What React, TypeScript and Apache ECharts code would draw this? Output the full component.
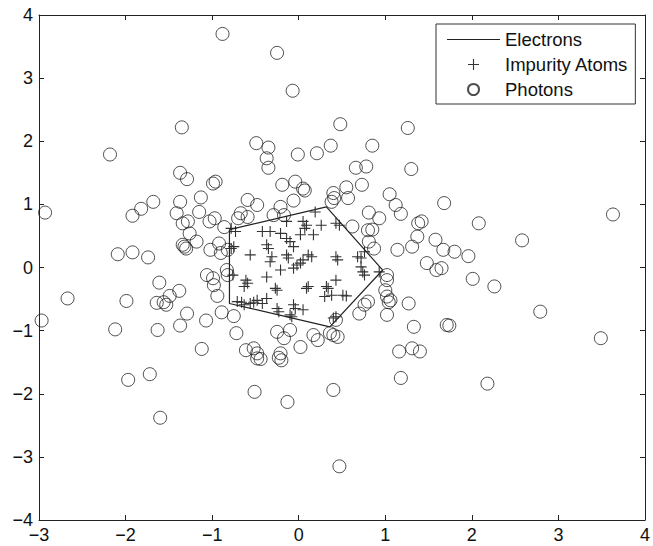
import React, { useEffect, useRef } from "react";
import * as echarts from "echarts";

const xTicks = [-3, -2, -1, 0, 1, 2, 3, 4];
const yTicks = [-4, -3, -2, -1, 0, 1, 2, 3, 4];

const electronX = [-0.8, 0.32, 0.97, 0.36, -0.8, -0.8];
const electronY = [0.6, 0.96, -0.04, -0.94, -0.57, 0.6];

const impurityX = [
  0.19, 0.05, 0.09, 0.07, 0.26, 0.43, 0.47, -0.14, -0.42, -0.33, -0.21, -0.78, -0.73, -0.1, 0.02, 0.17,
  -0.14, -0.37, -0.35, -0.75, -0.78, -0.06, -0.56, -0.31, -0.33, -0.14, -0.12, 0.11, 0.15, 0.05, -0.02,
  -0.06, 0.02, -0.21, 0.43, 0.45, 0.68, 0.72, 0.76, 0.72, 0.74, 0.76, 0.93, -0.76, -0.37, -0.61, -0.59,
  -0.63, -0.27, -0.25, 0.11, 0.09, 0.32, 0.34, 0.43, 0.3, 0.38, 0.51, 0.55, -0.71, -0.63, -0.56, -0.48,
  -0.42, -0.37, -0.66, -0.52, -0.25, -0.23, -0.06, -0.04, 0.05, -0.1, -0.08, 0.43, 0.4,
];
const impurityY = [
  0.88, 0.73, 0.67, 0.62, 0.67, 0.7, 0.67, 0.73, 0.57, 0.57, 0.54, 0.62, 0.57, 0.41, 0.52, 0.52,
  0.46, 0.36, 0.3, 0.33, 0.3, 0.33, 0.2, 0.17, 0.09, 0.2, 0.15, 0.2, 0.17, 0.12, 0.04,
  -0.01, 0.07, -0.04, 0.17, 0.12, 0.17, 0.15, 0.25, 0.01, -0.07, -0.12, -0.07, -0.12, -0.15, -0.2, -0.25,
  -0.3, -0.33, -0.36, -0.3, -0.33, -0.3, -0.33, -0.2, -0.46, -0.44, -0.44, -0.45, -0.54, -0.59, -0.57, -0.52,
  -0.57, -0.49, -0.55, -0.55, -0.65, -0.7, -0.59, -0.65, -0.67, -0.75, -0.78, -0.78, -0.8,
];

const photonX = [
  -0.88, -0.25, -0.07, -1.35, 0.48, 1.26, -2.18, -1.37, -1.29, -0.99, -0.96, -0.49, -0.35, -0.37, -0.35, -0.01,
  0.21, 0.37, 0.85, 0.66, 0.78, 1.3, -0.19, -0.04, 0.05, 0.55, 0.73, -0.59, -0.48, -0.67, -0.7, -0.21,
  -0.29, -0.17, -0.06, 0.07, 0.4, 0.41, 0.38, 0.57, 1.05, 1.12, 1.18, 1.68, 0.81, 0.93, 0.62, 0.8,
  0.85, 0.81, 0.87, 1.14, 1.38, 1.42, 1.37, 1.31, 1.58, 1.67, 1.48, 1.59, 1.65, 1.02, 1.02, 1.0,
  1.02, 1.06, 1.04, 0.8, 0.76, 0.7, 1.02, 1.27, 1.33, 1.71, 1.16, 1.31, 1.4, 0.43, 0.36, 0.4,
  0.45, 0.22, 0.17, 0.02, -0.25, -0.17, -0.1, -0.21, -0.61, -0.52, -0.48, -2.93, -1.92, -1.82, -1.68, -2.09,
  -1.92, -1.74, -2.67, -2.97, -1.99, -2.12, -1.61, -1.38, -1.49, -1.64, -1.53, -1.56, -1.63, -1.29, -1.37, -1.07,
  -1.12, -0.89, -0.75, -0.72, -1.37, -1.41, -1.34, -1.28, -1.26, -1.18, -1.34, -1.3, -1.32, -1.13, -1.15, -1.03,
  -0.97, -0.86, -1.02, -0.92, -0.9, -0.82, -0.83, -0.82, -1.06, -0.99, -0.98, -0.94, 2.08, 2.58, 3.63, 1.8,
  1.96, 2.01, 2.26, 1.74, 2.79, 3.49, -1.97, -1.72, -1.6, -0.51, -0.13, 0.4, 0.47, 1.18, -0.48, -0.44,
  -0.23, -0.2, 2.18, -0.59,
];
const photonY = [
  3.7, 3.4, 2.8, 2.22, 2.27, 2.21, 1.79, 1.5, 1.4, 1.33, 1.36, 1.97, 1.9, 1.73, 1.58, 1.79,
  1.81, 1.93, 1.93, 1.58, 1.6, 1.56, 1.31, 1.36, 1.25, 1.27, 1.31, 1.07, 0.99, 0.86, 0.78, 0.96,
  0.83, 0.83, 1.06, 1.22, 1.18, 1.1, 1.04, 1.1, 1.16, 0.99, 0.85, 1.02, 0.87, 0.78, 0.65, 0.59,
  0.6, 0.41, 0.3, 0.28, 0.7, 0.73, 0.49, 0.33, 0.44, 0.28, 0.07, -0.04, -0.01, -0.12, -0.2, -0.36,
  -0.46, -0.52, -0.55, -0.54, -0.59, -0.73, -0.75, -0.57, -0.94, -0.91, -1.33, -1.28, -1.33, -0.83, -1.04, -1.07,
  -1.1, -1.15, -1.07, -1.26, -1.02, -1.12, -0.99, -1.36, -1.31, -1.28, -1.36, 0.87, 0.82, 0.93, 1.04, 0.21,
  0.24, 0.16, -0.49, -0.84, -0.53, -0.98, -0.24, -0.37, -0.45, -0.56, -0.59, -0.55, -0.99, -0.73, -0.92, -0.84,
  -1.29, -0.71, -0.77, -1.04, 1.04, 0.86, 0.7, 0.73, 0.54, 0.41, 0.36, 0.3, 0.33, 1.11, 0.88, 0.73,
  0.78, 0.64, 0.28, 0.38, 0.23, 0.28, -0.04, -0.12, -0.12, -0.17, -0.28, -0.45, 0.7, 0.43, 0.84, 0.25,
  0.18, -0.18, -0.3, -0.92, -0.7, -1.12, -1.78, -1.69, -2.38, -1.97, -2.13, -1.94, -3.15, -1.75, -1.44, -1.45,
  -1.43, -1.47, -1.84, 0.8,
];

const FONT = "Liberation Sans, Arial, sans-serif";
const PLUS =
  "path://M4.5,0 L5.5,0 L5.5,4.5 L10,4.5 L10,5.5 L5.5,5.5 L5.5,10 L4.5,10 L4.5,5.5 L0,5.5 L0,4.5 L4.5,4.5 Z";
const LINE_ICON = "path://M0,0 L53,0 L53,1 L0,1 Z";
const fmt = (v: number) => String(v).replace("-", "\u2212");

export default function App() {
  const ref = useRef<HTMLDivElement>(null);
  useEffect(() => {
    if (!ref.current) return;
    const chart = echarts.init(ref.current, undefined, { renderer: "svg" });
    const axisCommon = {
      type: "value" as const,
      interval: 1,
      axisLine: { show: true, onZero: false, lineStyle: { color: "#222", width: 1 } },
      axisTick: { show: true, inside: true, length: 5, lineStyle: { color: "#222" } },
      splitLine: { show: false },
    };
    chart.setOption({
      animation: false,
      backgroundColor: "#fff",
      grid: { left: 39, top: 15, right: 2, bottom: 26, containLabel: false },
      xAxis: [
        {
          ...axisCommon,
          min: xTicks[0],
          max: xTicks[xTicks.length - 1],
          position: "bottom",
          axisLabel: { fontFamily: FONT, fontSize: 18, color: "#111", margin: 6, formatter: fmt },
        },
        {
          ...axisCommon,
          min: xTicks[0],
          max: xTicks[xTicks.length - 1],
          position: "top",
          axisLabel: { show: false },
        },
      ],
      yAxis: [
        {
          ...axisCommon,
          min: yTicks[0],
          max: yTicks[yTicks.length - 1],
          position: "left",
          axisLabel: { fontFamily: FONT, fontSize: 18, color: "#111", margin: 6, formatter: fmt },
        },
        {
          ...axisCommon,
          min: yTicks[0],
          max: yTicks[yTicks.length - 1],
          position: "right",
          axisLabel: { show: false },
        },
      ],
      legend: {
        orient: "vertical",
        left: 436,
        top: 24,
        padding: [6, 7, 5, 11],
        itemWidth: 53,
        itemHeight: 11,
        itemGap: 6,
        borderColor: "#333",
        borderWidth: 1,
        backgroundColor: "#fff",
        textStyle: { fontFamily: FONT, fontSize: 18.5, color: "#111", lineHeight: 18 },
        data: [
          { name: "Electrons", icon: LINE_ICON, itemStyle: { color: "#222" } },
          { name: "Impurity Atoms" },
          { name: "Photons" },
        ],
      },
      series: [
        {
          name: "Electrons",
          type: "line",
          data: electronX.map((x, i) => [x, electronY[i]]),
          symbol: "none",
          lineStyle: { color: "#222", width: 1.2 },
          itemStyle: { color: "#222" },
          z: 3,
        },
        {
          name: "Impurity Atoms",
          type: "scatter",
          data: impurityX.map((x, i) => [x, impurityY[i]]),
          symbol: PLUS,
          symbolSize: 11,
          itemStyle: { color: "#333", opacity: 1 },
          z: 2,
        },
        {
          name: "Photons",
          type: "scatter",
          data: photonX.map((x, i) => [x, photonY[i]]),
          symbol: "circle",
          symbolSize: 13,
          itemStyle: { color: "transparent", borderColor: "#222", borderWidth: 1 },
          z: 2,
        },
      ],
    });
    return () => chart.dispose();
  }, []);
  return (
    <div
      ref={ref}
      style={{ position: "fixed", left: 0, top: 0, width: 653, height: 546, background: "#fff" }}
    />
  );
}
